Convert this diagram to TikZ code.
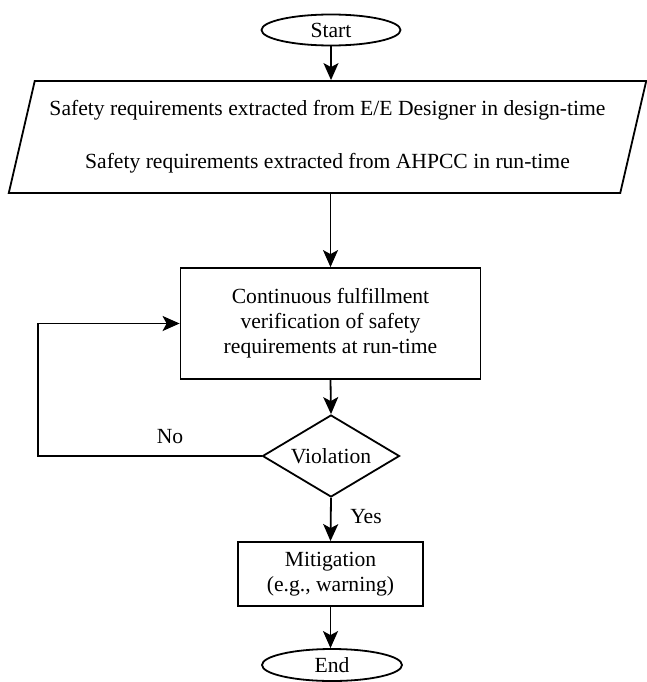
\documentclass[tikz,border=0pt]{standalone}
\usepackage{fontspec}
\setmainfont{Liberation Serif}
\usetikzlibrary{arrows.meta, positioning, shapes.geometric}

\begin{document}
\begin{tikzpicture}[x=1pt, y=-1pt, line width=1.8pt,
  >={Stealth[length=17pt, width=15pt, inset=4pt]},
  every node/.style={font=\fontsize{21.6}{25}\selectfont},
  terminal/.style={draw, ellipse, inner sep=0pt, minimum width=139pt, minimum height=31pt},
  iobox/.style={draw, trapezium, trapezium left angle=71.3, trapezium right angle=108.7,
    trapezium stretches=true, inner sep=0pt, minimum width=639pt, minimum height=112pt, align=center},
  procbox/.style={draw, rectangle, inner sep=0pt, align=center},
  decision/.style={draw, diamond, inner sep=0pt, shape aspect=1.67, minimum width=137pt, minimum height=82pt}]
  \useasboundingbox (0,0) rectangle (647,682);

  % Nodes
  \node[terminal] (start) at (331,30) {Start};
  \node[iobox] (reqs) at (327.5,137) {Safety requirements extracted from E/E Designer in design-time\\[28pt]
    Safety requirements extracted from AHPCC in run-time};
  \node[procbox, minimum width=300pt, minimum height=111pt] (verify) at (330.5,323.5)
    {Continuous fulfillment\\verification of safety\\requirements at run-time};
  \node[decision] (viol) at (331,456) {Violation};
  \node[procbox, minimum width=185pt, minimum height=64pt] (mitig) at (330.5,574)
    {Mitigation\\(e.g., warning)};
  \node[terminal, minimum width=140pt, minimum height=32pt] (end) at (332,665) {End};
  \coordinate (loop) at (38,456);

  % Connectors
  \draw[->] (start.south) -- (start.south |- reqs.north);
  \draw[->] (reqs.south -| verify.north) -- (verify.north);
  \draw[->] (verify.south) -- (viol.north);
  \draw[->] (viol.west) -- (loop) |- (verify.west);
  \draw[->] (viol.south) -- (mitig.north);
  \draw[->] (mitig.south) -- (mitig.south |- end.north);

  % Labels
  \node (no) at (170,437) {No};
  \node (yes) at (366,517) {Yes};
\end{tikzpicture}
\end{document}
